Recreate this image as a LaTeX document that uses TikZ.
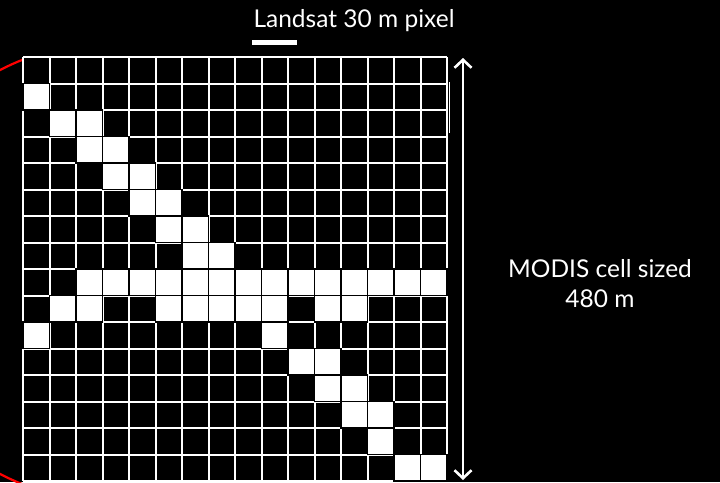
\documentclass[tikz,border=0pt]{standalone}
\usepackage{fontspec}
\setmainfont{Lato}
\usetikzlibrary{arrows.meta}
\begin{document}
\begin{tikzpicture}[x=1pt,y=-1pt,
  gridline/.style={white,line width=2pt},
  wcell/.style={fill=white,draw=black,line width=1.2pt},
  lbl/.style={text=white,inner sep=0pt,font=\fontsize{24.5}{30}\selectfont,align=center}]
\fill[black] (0,0) rectangle (720,482);
\useasboundingbox (0,0) rectangle (720,482);
% red circle behind the grid
\begin{scope}
  \clip (0,0) rectangle (23,482);
  \draw[red,line width=2.2pt] (106,272) circle (228);
\end{scope}
% grid
\foreach \i in {0,...,16}{
  \draw[gridline] ({23+\i*26.5},57) -- ({23+\i*26.5},481);
  \draw[gridline] (23,{57+\i*26.5}) -- (447,{57+\i*26.5});
}
\draw[white,line width=1.5pt] (449.5,82) -- (449.5,133);
% white cells (col/row)
\foreach \c/\r in {0/1, 1/2,2/2, 2/3,3/3, 3/4,4/4, 4/5,5/5, 5/6,6/6, 6/7,7/7,
  2/8,3/8,4/8,5/8,6/8,7/8,8/8,9/8,10/8,11/8,12/8,13/8,14/8,15/8,
  1/9,2/9,5/9,6/9,7/9,8/9,9/9,11/9,12/9,
  0/10,9/10, 10/11,11/11, 11/12,12/12, 12/13,13/13, 13/14, 14/15,15/15}{
  \draw[wcell] ({23+\c*26.5},{57+\r*26.5}) rectangle ++(26.5,26.5);
}
% labels
\node[lbl,anchor=base] (landsat) at (354,27) {Landsat 30 m pixel};
\fill[white] (252,40) rectangle (297,45);
\node[lbl] (modis) at (600,284) {MODIS cell sized\\480 m};
% double arrow
\coordinate (atop) at (463,58);
\coordinate (abot) at (463,480);
\draw[white,line width=2.6pt,{Straight Barb[length=8pt,width=17pt]}-{Straight Barb[length=8pt,width=17pt]}] (atop) -- (abot);
\end{tikzpicture}
\end{document}
